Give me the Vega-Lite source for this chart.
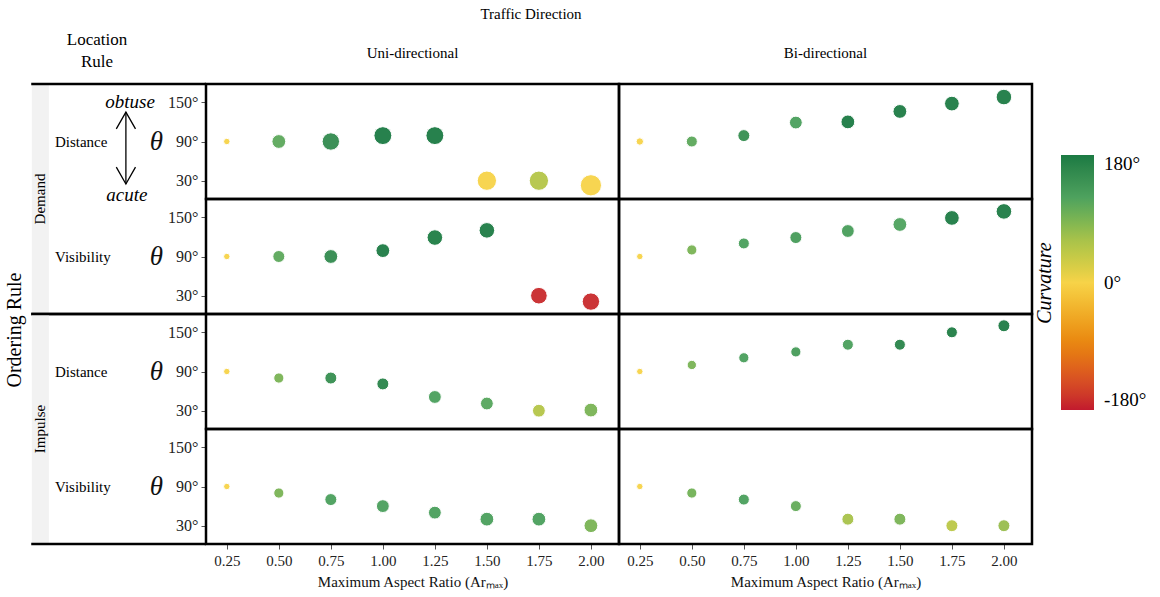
{
  "$schema": "https://vega.github.io/schema/vega-lite/v6.json",
  "padding": {"left": 4, "top": 7, "right": 5, "bottom": 5},
  "title": {"text": "Ordering Rule", "orient": "left", "anchor": "middle", "fontSize": 20, "fontWeight": "normal", "font": "Liberation Serif", "color": "black", "offset": 4, "dx": -32},
  "data": {
    "values": [
      {"ordering": "Demand", "location": "Distance", "direction": "Uni-directional", "ar": 0.25, "theta": 90, "curvature": 0, "spread": 4.8},
      {"ordering": "Demand", "location": "Distance", "direction": "Uni-directional", "ar": 0.5, "theta": 90, "curvature": 110, "spread": 22},
      {"ordering": "Demand", "location": "Distance", "direction": "Uni-directional", "ar": 0.75, "theta": 90, "curvature": 155, "spread": 35},
      {"ordering": "Demand", "location": "Distance", "direction": "Uni-directional", "ar": 1.0, "theta": 99, "curvature": 180, "spread": 37},
      {"ordering": "Demand", "location": "Distance", "direction": "Uni-directional", "ar": 1.25, "theta": 99, "curvature": 180, "spread": 37},
      {"ordering": "Demand", "location": "Distance", "direction": "Uni-directional", "ar": 1.5, "theta": 30, "curvature": 0, "spread": 43},
      {"ordering": "Demand", "location": "Distance", "direction": "Uni-directional", "ar": 1.75, "theta": 30, "curvature": 50, "spread": 43},
      {"ordering": "Demand", "location": "Distance", "direction": "Uni-directional", "ar": 2.0, "theta": 23, "curvature": 0, "spread": 52},

      {"ordering": "Demand", "location": "Visibility", "direction": "Uni-directional", "ar": 0.25, "theta": 90, "curvature": 0, "spread": 4.8},
      {"ordering": "Demand", "location": "Visibility", "direction": "Uni-directional", "ar": 0.5, "theta": 90, "curvature": 110, "spread": 16.6},
      {"ordering": "Demand", "location": "Visibility", "direction": "Uni-directional", "ar": 0.75, "theta": 90, "curvature": 155, "spread": 22},
      {"ordering": "Demand", "location": "Visibility", "direction": "Uni-directional", "ar": 1.0, "theta": 99, "curvature": 178, "spread": 22},
      {"ordering": "Demand", "location": "Visibility", "direction": "Uni-directional", "ar": 1.25, "theta": 119, "curvature": 176, "spread": 28},
      {"ordering": "Demand", "location": "Visibility", "direction": "Uni-directional", "ar": 1.5, "theta": 130, "curvature": 178, "spread": 28},
      {"ordering": "Demand", "location": "Visibility", "direction": "Uni-directional", "ar": 1.75, "theta": 30, "curvature": -170, "spread": 32},
      {"ordering": "Demand", "location": "Visibility", "direction": "Uni-directional", "ar": 2.0, "theta": 21, "curvature": -170, "spread": 35},

      {"ordering": "Impulse", "location": "Distance", "direction": "Uni-directional", "ar": 0.25, "theta": 90, "curvature": 0, "spread": 4.8},
      {"ordering": "Impulse", "location": "Distance", "direction": "Uni-directional", "ar": 0.5, "theta": 80, "curvature": 90, "spread": 12},
      {"ordering": "Impulse", "location": "Distance", "direction": "Uni-directional", "ar": 0.75, "theta": 80, "curvature": 150, "spread": 16.6},
      {"ordering": "Impulse", "location": "Distance", "direction": "Uni-directional", "ar": 1.0, "theta": 71, "curvature": 165, "spread": 16.6},
      {"ordering": "Impulse", "location": "Distance", "direction": "Uni-directional", "ar": 1.25, "theta": 51, "curvature": 125, "spread": 19},
      {"ordering": "Impulse", "location": "Distance", "direction": "Uni-directional", "ar": 1.5, "theta": 41, "curvature": 115, "spread": 19},
      {"ordering": "Impulse", "location": "Distance", "direction": "Uni-directional", "ar": 1.75, "theta": 30, "curvature": 50, "spread": 19},
      {"ordering": "Impulse", "location": "Distance", "direction": "Uni-directional", "ar": 2.0, "theta": 31, "curvature": 90, "spread": 22},

      {"ordering": "Impulse", "location": "Visibility", "direction": "Uni-directional", "ar": 0.25, "theta": 90, "curvature": 0, "spread": 4.8},
      {"ordering": "Impulse", "location": "Visibility", "direction": "Uni-directional", "ar": 0.5, "theta": 80, "curvature": 90, "spread": 12},
      {"ordering": "Impulse", "location": "Visibility", "direction": "Uni-directional", "ar": 0.75, "theta": 70, "curvature": 125, "spread": 16.6},
      {"ordering": "Impulse", "location": "Visibility", "direction": "Uni-directional", "ar": 1.0, "theta": 60, "curvature": 125, "spread": 19},
      {"ordering": "Impulse", "location": "Visibility", "direction": "Uni-directional", "ar": 1.25, "theta": 50, "curvature": 125, "spread": 19},
      {"ordering": "Impulse", "location": "Visibility", "direction": "Uni-directional", "ar": 1.5, "theta": 40, "curvature": 125, "spread": 22},
      {"ordering": "Impulse", "location": "Visibility", "direction": "Uni-directional", "ar": 1.75, "theta": 40, "curvature": 125, "spread": 22},
      {"ordering": "Impulse", "location": "Visibility", "direction": "Uni-directional", "ar": 2.0, "theta": 30, "curvature": 90, "spread": 22},

      {"ordering": "Demand", "location": "Distance", "direction": "Bi-directional", "ar": 0.25, "theta": 90, "curvature": 0, "spread": 6.3},
      {"ordering": "Demand", "location": "Distance", "direction": "Bi-directional", "ar": 0.5, "theta": 90, "curvature": 110, "spread": 14},
      {"ordering": "Demand", "location": "Distance", "direction": "Bi-directional", "ar": 0.75, "theta": 99, "curvature": 150, "spread": 16.6},
      {"ordering": "Demand", "location": "Distance", "direction": "Bi-directional", "ar": 1.0, "theta": 119, "curvature": 125, "spread": 19},
      {"ordering": "Demand", "location": "Distance", "direction": "Bi-directional", "ar": 1.25, "theta": 120, "curvature": 180, "spread": 22},
      {"ordering": "Demand", "location": "Distance", "direction": "Bi-directional", "ar": 1.5, "theta": 136, "curvature": 178, "spread": 22},
      {"ordering": "Demand", "location": "Distance", "direction": "Bi-directional", "ar": 1.75, "theta": 148, "curvature": 178, "spread": 25},
      {"ordering": "Demand", "location": "Distance", "direction": "Bi-directional", "ar": 2.0, "theta": 158, "curvature": 178, "spread": 28},

      {"ordering": "Demand", "location": "Visibility", "direction": "Bi-directional", "ar": 0.25, "theta": 90, "curvature": 0, "spread": 4.8},
      {"ordering": "Demand", "location": "Visibility", "direction": "Bi-directional", "ar": 0.5, "theta": 100, "curvature": 90, "spread": 12},
      {"ordering": "Demand", "location": "Visibility", "direction": "Bi-directional", "ar": 0.75, "theta": 110, "curvature": 125, "spread": 14},
      {"ordering": "Demand", "location": "Visibility", "direction": "Bi-directional", "ar": 1.0, "theta": 119, "curvature": 130, "spread": 16.6},
      {"ordering": "Demand", "location": "Visibility", "direction": "Bi-directional", "ar": 1.25, "theta": 129, "curvature": 128, "spread": 19},
      {"ordering": "Demand", "location": "Visibility", "direction": "Bi-directional", "ar": 1.5, "theta": 139, "curvature": 120, "spread": 22},
      {"ordering": "Demand", "location": "Visibility", "direction": "Bi-directional", "ar": 1.75, "theta": 149, "curvature": 178, "spread": 25},
      {"ordering": "Demand", "location": "Visibility", "direction": "Bi-directional", "ar": 2.0, "theta": 159, "curvature": 178, "spread": 28},

      {"ordering": "Impulse", "location": "Distance", "direction": "Bi-directional", "ar": 0.25, "theta": 90, "curvature": 0, "spread": 4.8},
      {"ordering": "Impulse", "location": "Distance", "direction": "Bi-directional", "ar": 0.5, "theta": 100, "curvature": 90, "spread": 10},
      {"ordering": "Impulse", "location": "Distance", "direction": "Bi-directional", "ar": 0.75, "theta": 111, "curvature": 125, "spread": 12},
      {"ordering": "Impulse", "location": "Distance", "direction": "Bi-directional", "ar": 1.0, "theta": 120, "curvature": 130, "spread": 12},
      {"ordering": "Impulse", "location": "Distance", "direction": "Bi-directional", "ar": 1.25, "theta": 131, "curvature": 125, "spread": 14},
      {"ordering": "Impulse", "location": "Distance", "direction": "Bi-directional", "ar": 1.5, "theta": 131, "curvature": 165, "spread": 14},
      {"ordering": "Impulse", "location": "Distance", "direction": "Bi-directional", "ar": 1.75, "theta": 150, "curvature": 175, "spread": 14},
      {"ordering": "Impulse", "location": "Distance", "direction": "Bi-directional", "ar": 2.0, "theta": 160, "curvature": 178, "spread": 16.6},

      {"ordering": "Impulse", "location": "Visibility", "direction": "Bi-directional", "ar": 0.25, "theta": 90, "curvature": 0, "spread": 4.8},
      {"ordering": "Impulse", "location": "Visibility", "direction": "Bi-directional", "ar": 0.5, "theta": 80, "curvature": 95, "spread": 12},
      {"ordering": "Impulse", "location": "Visibility", "direction": "Bi-directional", "ar": 0.75, "theta": 70, "curvature": 125, "spread": 14},
      {"ordering": "Impulse", "location": "Visibility", "direction": "Bi-directional", "ar": 1.0, "theta": 60, "curvature": 105, "spread": 14},
      {"ordering": "Impulse", "location": "Visibility", "direction": "Bi-directional", "ar": 1.25, "theta": 40, "curvature": 60, "spread": 16.6},
      {"ordering": "Impulse", "location": "Visibility", "direction": "Bi-directional", "ar": 1.5, "theta": 40, "curvature": 90, "spread": 16.6},
      {"ordering": "Impulse", "location": "Visibility", "direction": "Bi-directional", "ar": 1.75, "theta": 30, "curvature": 45, "spread": 16.6},
      {"ordering": "Impulse", "location": "Visibility", "direction": "Bi-directional", "ar": 2.0, "theta": 30, "curvature": 70, "spread": 16.6}
    ]
  },
  "transform": [{"calculate": "datum.ordering + ' / ' + datum.location", "as": "panel"}],
  "facet": {
    "row": {"field": "panel", "type": "nominal", "header": {"labels": false, "title": null}},
    "column": {
      "field": "direction", "type": "nominal", "sort": ["Uni-directional", "Bi-directional"],
      "header": {"title": "Traffic Direction", "labelPadding": 23, "titlePadding": 14}
    }
  },
  "spacing": {"row": 0, "column": 0},
  "bounds": "flush",
  "spec": {
    "width": 413,
    "height": 115,
    "layer": [
      {
        "transform": [{"filter": "datum.direction == 'Uni-directional' && datum.ar == 0.25"}],
        "mark": {"type": "rect", "color": "#f2f2f2"},
        "encoding": {"x": {"datum": -0.687}, "x2": {"datum": -0.605}, "y": {"datum": 2}, "y2": {"datum": 178}}
      },
      {
        "transform": [{"filter": "datum.direction == 'Uni-directional' && datum.ar == 0.25 && datum.location == 'Distance'"}],
        "mark": {"type": "rule", "color": "black", "strokeWidth": 2.5},
        "encoding": {"x": {"datum": -0.69}, "x2": {"datum": 0.15}, "y": {"datum": 178}}
      },
      {
        "transform": [{"filter": "datum.direction == 'Uni-directional' && datum.ar == 0.25 && datum.location == 'Visibility'"}],
        "mark": {"type": "rule", "color": "black", "strokeWidth": 2.5},
        "encoding": {"x": {"datum": -0.69}, "x2": {"datum": 0.15}, "y": {"datum": 2}}
      },
      {
        "transform": [{"filter": "datum.direction == 'Uni-directional' && datum.ar == 0.25"}],
        "mark": {"type": "text", "align": "left", "baseline": "middle", "fontSize": 15},
        "encoding": {"x": {"datum": -0.576}, "y": {"datum": 90}, "text": {"field": "location"}}
      },
      {
        "transform": [{"filter": "datum.direction == 'Uni-directional' && datum.ar == 0.25 && datum.location == 'Visibility'"}],
        "mark": {"type": "text", "align": "center", "baseline": "middle", "angle": 270, "fontSize": 15},
        "encoding": {"x": {"datum": -0.65}, "y": {"datum": 178}, "text": {"field": "ordering"}}
      },
      {
        "transform": [{"filter": "datum.direction == 'Uni-directional' && datum.ar == 0.25 && datum.location == 'Distance' && datum.ordering == 'Demand'"}],
        "layer": [
          {
            "mark": {"type": "rule", "color": "black", "strokeWidth": 1.3},
            "encoding": {"x": {"datum": -0.235}, "y": {"datum": 135}, "y2": {"datum": 25}}
          },
          {
            "mark": {"type": "point", "shape": "M-1.2,2.1L0,0L1.2,2.1", "filled": false, "color": "black", "strokeWidth": 1.3, "size": 256, "opacity": 1},
            "encoding": {"x": {"datum": -0.235}, "y": {"datum": 135}}
          },
          {
            "mark": {"type": "point", "shape": "M-1.2,-2.1L0,0L1.2,-2.1", "filled": false, "color": "black", "strokeWidth": 1.3, "size": 256, "opacity": 1},
            "encoding": {"x": {"datum": -0.235}, "y": {"datum": 25}}
          },
          {
            "mark": {"type": "text", "text": "obtuse", "fontStyle": "italic", "fontSize": 19, "align": "center", "baseline": "middle"},
            "encoding": {"x": {"datum": -0.215}, "y": {"datum": 150.4}}
          },
          {
            "mark": {"type": "text", "text": "acute", "fontStyle": "italic", "fontSize": 19, "align": "center", "baseline": "middle"},
            "encoding": {"x": {"datum": -0.23}, "y": {"datum": 8}}
          },
          {
            "mark": {"type": "text", "text": ["Location", "Rule"], "fontSize": 17, "lineHeight": 22, "align": "center", "baseline": "middle"},
            "encoding": {"x": {"datum": -0.374}, "y": {"datum": 246}}
          }
        ]
      },
      {
        "mark": {"type": "circle", "fillOpacity": 0.95, "stroke": "white", "strokeWidth": 1, "opacity": 1},
        "encoding": {
          "x": {
            "field": "ar", "type": "quantitative",
            "scale": {"domain": [0.15, 2.135], "nice": false, "zero": false},
            "axis": {
              "values": [0.25, 0.5, 0.75, 1.0, 1.25, 1.5, 1.75, 2.0], "format": ".2f",
              "title": "Maximum Aspect Ratio (Arₘₐₓ)", "labelFontSize": 15, "titleFontSize": 15,
              "titleFontWeight": "normal", "tickSize": 5, "labelPadding": 4, "titlePadding": 6
            }
          },
          "y": {
            "field": "theta", "type": "quantitative",
            "scale": {"domain": [2, 178], "nice": false, "zero": false},
            "axis": {
              "values": [30, 60, 90, 120, 150],
              "labelExpr": "datum.value % 60 == 30 ? datum.value + '°' : ''",
              "labelFontSize": 16, "tickSize": 5, "labelPadding": 3,
              "title": "θ", "titleAngle": 0, "titleFontSize": 27, "titleFontStyle": "italic",
              "titleFontWeight": "normal", "titleAlign": "right", "titleBaseline": "middle", "titlePadding": 5
            }
          },
          "color": {
            "field": "curvature", "type": "quantitative",
            "scale": {
              "domain": [-180, -90, 0, 60, 120, 180],
              "range": ["#c21a2e", "#e8820e", "#f7d348", "#a8c24a", "#4ea25e", "#1b7a43"]
            },
            "legend": {
              "title": "Curvature", "orient": "none", "legendX": 829, "legendY": 71, "titleOrient": "left",
              "titleFontStyle": "italic", "titleFontSize": 20, "titleFontWeight": "normal",
              "gradientLength": 255, "gradientThickness": 33, "gradientStrokeWidth": 0,
              "values": [-180, 0, 180], "labelExpr": "datum.value + '°'",
              "labelFontSize": 19, "labelOffset": 10, "titlePadding": 5,
              "encoding": {"title": {"angle": {"value": -90}}}
            }
          },
          "size": {
            "field": "spread", "type": "quantitative",
            "scale": {"domain": [0, 60], "range": [0, 520]},
            "legend": null
          }
        }
      }
    ]
  },
  "config": {
    "font": "Liberation Serif",
    "view": {"stroke": "black", "strokeWidth": 2.5},
    "axis": {
      "labelFont": "Liberation Serif", "titleFont": "Liberation Serif",
      "labelColor": "#222", "titleColor": "#111",
      "gridColor": "#ececec", "tickColor": "#555", "domain": false
    },
    "header": {
      "labelFont": "Liberation Serif", "titleFont": "Liberation Serif",
      "labelFontSize": 15, "titleFontSize": 15, "titleFontWeight": "normal",
      "labelColor": "black", "titleColor": "black"
    },
    "legend": {"labelFont": "Liberation Serif", "titleFont": "Liberation Serif", "labelColor": "black", "titleColor": "black"},
    "text": {"font": "Liberation Serif", "color": "black"}
  }
}
